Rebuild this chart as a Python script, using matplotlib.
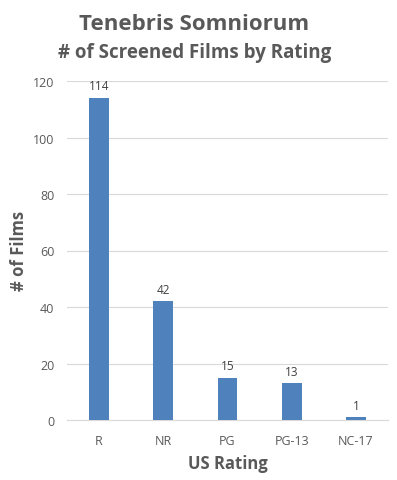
import matplotlib as mpl
import matplotlib.pyplot as plt
import numpy as np

mpl.rcParams.update({
    "font.family": ["Open Sans", "DejaVu Sans"],
})

# ---- data ----
ratings = ["R", "NR", "PG", "PG-13", "NC-17"]
counts = [114, 42, 15, 13, 1]
y_ticks = [0, 20, 40, 60, 80, 100, 120]

BAR_COLOR = "#4F81BD"
TEXT_GRAY = "#595959"
GRID_GRAY = "#D9D9D9"

fig = plt.figure(figsize=(3.97, 4.81), dpi=100)
ax = fig.add_axes([67 / 397, 60 / 481, 321 / 397, 339 / 481])

x = np.arange(len(ratings))
bars = ax.bar(x, counts, width=0.31, color=BAR_COLOR, zorder=3)

for b, v in zip(bars, counts):
    ax.annotate(str(v), (b.get_x() + b.get_width() / 2, v),
                xytext=(0, 4), textcoords="offset points",
                ha="center", va="bottom", fontsize=8.5, color="#404040")

ax.set_xlim(-0.5, len(ratings) - 0.5)
ax.set_ylim(0, 120)
ax.set_yticks(y_ticks)
ax.set_xticks(x)
ax.set_xticklabels(ratings)
ax.tick_params(axis="both", length=0, labelsize=9, colors=TEXT_GRAY)
ax.tick_params(axis="y", pad=9)
ax.tick_params(axis="x", pad=10)

ax.grid(axis="y", color=GRID_GRAY, linewidth=0.8, zorder=0)
for s in ["top", "right", "left"]:
    ax.spines[s].set_visible(False)
ax.spines["bottom"].set_color(GRID_GRAY)
ax.spines["bottom"].set_linewidth(0.8)

ax.set_xlabel("US Rating", fontsize=12, fontweight="bold",
              color=TEXT_GRAY, labelpad=5)
fig.text(19 / 397, 1 - 251 / 481, "# of Films", rotation=90,
         ha="center", va="center", fontsize=12, fontweight="bold",
         color=TEXT_GRAY)

fig.text(0.49, 1 - 24 / 481, "Tenebris Somniorum", ha="center", va="center",
         fontsize=16, fontweight="bold", color=TEXT_GRAY)
fig.text(0.49, 1 - 53 / 481, "# of Screened Films by Rating", ha="center",
         va="center", fontsize=13.5, fontweight="bold", color=TEXT_GRAY)

fig.savefig("out.png", dpi=100, facecolor="white")
